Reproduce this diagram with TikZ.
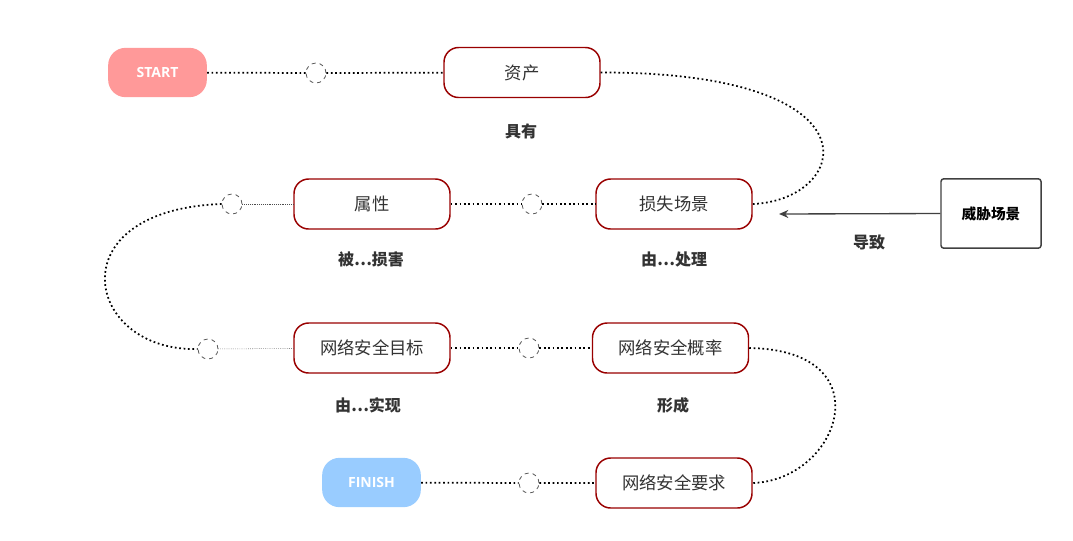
\documentclass[tikz,border=0pt]{standalone}
\usepackage{fontspec}
\setmainfont{Open Sans}
\newfontfamily\cjk{Noto Sans CJK SC}
\usetikzlibrary{arrows.meta}
\definecolor{dred}{HTML}{990000}
\definecolor{txt}{HTML}{333333}
\begin{document}
\begin{tikzpicture}[x=0.75pt,y=-0.75pt,
  box/.style={draw=dred,line width=1.1pt,rounded corners=11pt,fill=white,minimum width=117pt,minimum height=37.5pt,font=\cjk\fontsize{13}{15}\selectfont,text=txt},
  pill/.style={rounded corners=13pt,minimum width=74pt,minimum height=37pt,text=white,font=\bfseries\fontsize{10.5}{12}\selectfont},
  hole/.style={circle,draw=black!65,dashed,line width=0.6pt,minimum size=15pt,inner sep=0pt,fill=white},
  lab/.style={font=\cjk\bfseries\fontsize{12}{14}\selectfont,text=txt},
  dl/.style={dotted,line width=1.3pt,black},
  fl/.style={densely dotted,line width=0.4pt,black!70}]
\useasboundingbox (0,0) rectangle (1073,540);
\node[pill,fill={rgb,255:red,255;green,153;blue,153}] (start) at (157.5,72.5) {START};
\node[pill,fill={rgb,255:red,153;green,204;blue,255}] (finish) at (371.5,482.5) {FINISH};
\node[box] (zc) at (522,72.5) {资产};
\node[box] (sx) at (372,204) {属性};
\node[box] (ss) at (674,204) {损失场景};
\node[box] (mb) at (372,348) {网络安全目标};
\node[box] (gl) at (670.5,348) {网络安全概率};
\node[box] (yq) at (674,483) {网络安全要求};
\node[draw=black!75,line width=1.1pt,rounded corners=2pt,minimum width=75pt,minimum height=52pt,font=\cjk\bfseries\fontsize{11}{13}\selectfont,text=black] (wx) at (991,213.5) {威胁场景};
\coordinate (ah) at (779,214);
\draw[-{Stealth[length=7pt,width=6pt]},line width=1pt,black!75] (wx.west) -- (ah);
\node[hole] (c1) at (316,73) {};
\node[hole] (c2) at (532,204) {};
\node[hole] (c3) at (232,204) {};
\node[hole] (c4) at (208,349) {};
\node[hole] (c5) at (529,348) {};
\node[hole] (c6) at (529,483) {};
\draw[dl] (start) -- (c1) -- (zc);
\draw[dl] (sx) -- (c2) -- (ss);
\draw[fl] (c3) -- (sx);
\draw[fl] (c4) -- (mb);
\draw[dl] (mb) -- (c5) -- (gl);
\draw[dl] (finish) -- (c6) -- (yq);
\draw[dl] (zc.east) .. controls (885,72) and (850,200) .. (ss.east);
\draw[dl] (c3.west) .. controls (55,210) and (85,352) .. (c4.west);
\draw[dl] (gl.east) .. controls (885,350) and (840,480) .. (yq.east);
\node[lab] (l1) at (521,131) {具有};
\node[lab] (l2) at (371,259) {被…损害};
\node[lab] (l3) at (674,259) {由…处理};
\node[lab] (l4) at (869,242) {导致};
\node[lab] (l5) at (368,405) {由…实现};
\node[lab] (l6) at (673,405) {形成};
\end{tikzpicture}
\end{document}
